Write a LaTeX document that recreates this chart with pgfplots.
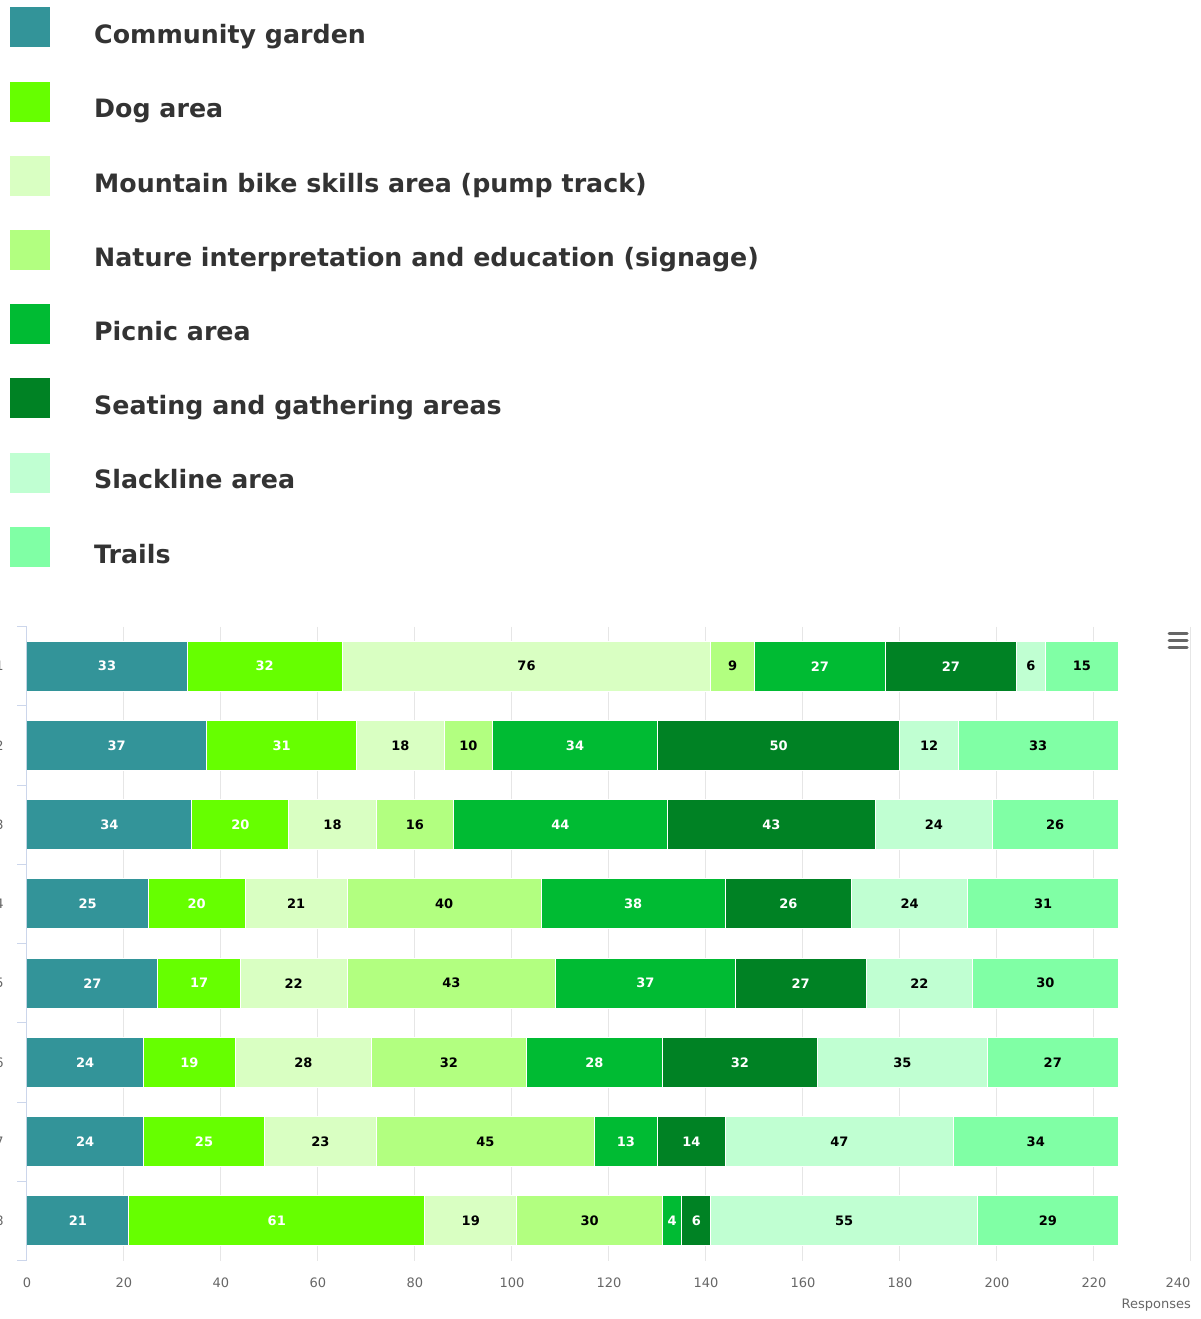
\documentclass[border=0pt]{standalone}
\usepackage{pgfplots}
\usepackage{pgfplotstable}
\usepackage{fontspec}
\setmainfont{DejaVu Sans}
\pgfplotsset{compat=1.18}

\definecolor{cgarden}{HTML}{339499}
\definecolor{dogarea}{HTML}{66FF00}
\definecolor{mtb}{HTML}{D9FFC2}
\definecolor{nature}{HTML}{B2FF80}
\definecolor{picnic}{HTML}{00BB33}
\definecolor{seating}{HTML}{008224}
\definecolor{slack}{HTML}{C0FFD2}
\definecolor{trails}{HTML}{80FFA5}
\definecolor{axisc}{HTML}{CCD6EB}
\definecolor{gridc}{HTML}{E6E6E6}
\definecolor{tickc}{HTML}{666666}
\definecolor{legc}{HTML}{333333}

% responses per row, one column per facility
\pgfplotstableread{
row cg dog mtb nat pic seat slack trail
1   33 32  76   9  27  27   6    15
2   37 31  18  10  34  50  12    33
3   34 20  18  16  44  43  24    26
4   25 20  21  40  38  26  24    31
5   27 17  22  43  37  27  22    30
6   24 19  28  32  28  32  35    27
7   24 25  23  45  13  14  47    34
8   21 61  19  30   4   6  55    29
}\responses

\begin{document}
\begin{tikzpicture}
\path[use as bounding box] (0,0) rectangle (1201pt,-1319pt);
\begin{axis}[
  at={(27pt,-1260.6pt)}, anchor=south west,
  scale only axis,
  width=1164pt, height=634pt,
  xbar stacked,
  bar width=50pt,
  xmin=0, xmax=240,
  ymin=0.5, ymax=8.5,
  y dir=reverse,
  xtick={0,20,...,220},
  extra x ticks={240},
  extra x tick style={grid=major, xticklabel style={xshift=-13pt}},
  ytick={1,...,8},
  minor ytick={0.5,1.5,...,8.5},
  xmajorgrids, major grid style={gridc, line width=1pt},
  axis lines*=left,
  x axis line style={draw=none},
  y axis line style={draw=axisc, line width=1pt},
  xtick style={draw=none},
  major y tick style={draw=none},
  minor y tick style={draw=axisc, line width=1pt},
  minor tick length=10pt,
  tick align=outside,
  ticklabel style={font=\fontsize{13}{15}\selectfont, text=tickc},
  /pgf/number format/assume math mode=true,
  xticklabel style={inner sep=0pt, anchor=north, yshift=-13pt},
  yticklabel style={inner sep=0pt, anchor=east, xshift=-19pt},
  xlabel={Responses},
  xlabel style={at={(axis description cs:1,0)}, anchor=north east, inner sep=0pt,
    yshift=-38pt, font=\fontsize{13}{15}\selectfont, text=tickc},
  point meta=explicit symbolic,
  nodes near coords={\pgfplotspointmeta},
  every node near coord/.append style={font=\bfseries\fontsize{13}{15}\selectfont,
    anchor=center},
  legend image code/.code={\fill[#1] (0pt,-13pt) rectangle (41pt,28pt);},
  legend cell align=left,
  legend style={draw=none, fill=none, inner sep=0pt,
    at={(axis description cs:0,1)}, anchor=north west, xshift=-18pt, yshift=620.4pt,
    row sep=32.2pt, column sep=43pt, nodes={inner sep=0pt},
    font=\bfseries\fontsize{25.3}{30}\selectfont, text=legc},
]
\addplot[fill=cgarden, draw=white, line width=1pt, nodes near coords style={text=white}]
  table[x=cg, y=row, meta=cg] {\responses};
\addplot[fill=dogarea, draw=white, line width=1pt, nodes near coords style={text=white}]
  table[x=dog, y=row, meta=dog] {\responses};
\addplot[fill=mtb, draw=white, line width=1pt, nodes near coords style={text=black}]
  table[x=mtb, y=row, meta=mtb] {\responses};
\addplot[fill=nature, draw=white, line width=1pt, nodes near coords style={text=black}]
  table[x=nat, y=row, meta=nat] {\responses};
\addplot[fill=picnic, draw=white, line width=1pt, nodes near coords style={text=white}]
  table[x=pic, y=row, meta=pic] {\responses};
\addplot[fill=seating, draw=white, line width=1pt, nodes near coords style={text=white}]
  table[x=seat, y=row, meta=seat] {\responses};
\addplot[fill=slack, draw=white, line width=1pt, nodes near coords style={text=black}]
  table[x=slack, y=row, meta=slack] {\responses};
\addplot[fill=trails, draw=white, line width=1pt, nodes near coords style={text=black}]
  table[x=trail, y=row, meta=trail] {\responses};
\legend{Community garden, Dog area, Mountain bike skills area (pump track),
  Nature interpretation and education (signage), Picnic area,
  Seating and gathering areas, Slackline area, Trails}
\end{axis}
% menu icon
\foreach \yy in {633,640,647}
  \draw[tickc, line width=3pt, line cap=round] (1169pt,-\yy pt) -- (1187pt,-\yy pt);
\end{tikzpicture}
\end{document}
